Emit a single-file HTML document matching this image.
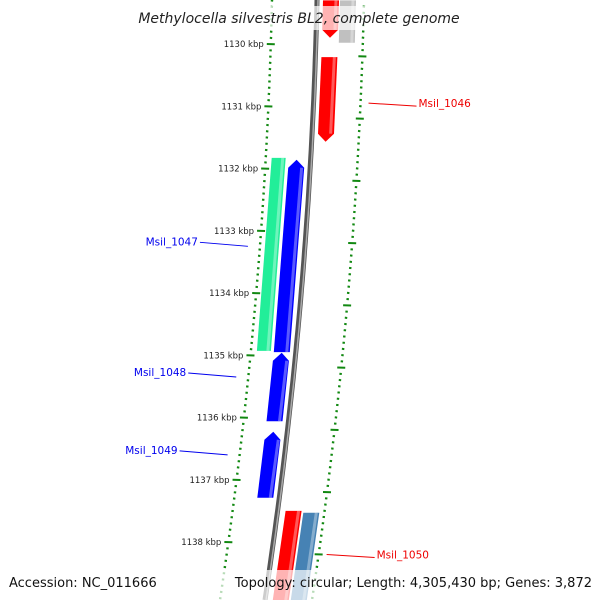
<!DOCTYPE html>
<html><head><meta charset="utf-8"><style>
body{margin:0;background:#fff}
svg{display:block;font-family:"DejaVu Sans","Liberation Sans",sans-serif}
</style></head><body>
<svg id="c" width="600" height="600" viewBox="0 0 600 600">
<defs>
<linearGradient id="bb" x1="0" x2="1"><stop offset="0" stop-color="#999"/><stop offset="0.5" stop-color="#555"/><stop offset="1" stop-color="#aaa"/></linearGradient>
</defs>
<g id="ticks"></g>
<g id="genes"></g>
<g id="labels"></g>
<rect x="140" y="6" width="320" height="24" fill="#fff" opacity="0.7"/>
<text x="299" y="23" text-anchor="middle" font-size="14" font-style="italic" fill="#222">Methylocella silvestris BL2, complete genome</text>
<rect x="0" y="570" width="600" height="30" fill="#fff" opacity="0.7"/>
<text x="9" y="587" font-size="13" fill="#111">Accession: NC_011666</text>
<text x="592" y="587" text-anchor="end" font-size="13" fill="#111">Topology: circular; Length: 4,305,430 bp; Genes: 3,872</text>
</svg>
<script>
const majorKbp=[1130,1131,1132,1133,1134,1135,1136,1137,1138];
const geneNames=["top-red","top-gray","Msil_1046","green","Msil_1047","Msil_1048","Msil_1049","Msil_1050","bottom-steel"];
const geneStart=[1129.3,1129.3,1130.21,1131.83,1131.86,1134.96,1136.23,1137.50,1137.53];
const geneEnd=[1129.90,1129.98,1131.57,1134.93,1134.95,1136.06,1137.29,1139.2,1139.2];
const geneStrand=[-1,0,-1,0,1,1,1,0,0];
const geneLane=[14,31,14,-32,-14,-14,-14,16,34];
const geneColor=["#ff0000","#c0c0c0","#ff0000","#22ee99","#0000ff","#0000ff","#0000ff","#ff0000","#4682b4"];
const labelText=["Msil_1046","Msil_1047","Msil_1048","Msil_1049","Msil_1050"];
const labelKbp=[1130.95,1133.25,1135.35,1136.60,1138.20];
const labelSide=[1,-1,-1,-1,1];
const labelColor=["#ee0000","#0000ee","#0000ee","#0000ee","#ee0000"];
const NS="http://www.w3.org/2000/svg";
function yOf(k){return 44+(k-1130)*62.25;}
function xb(y){return 317-0.0228*y-1.065e-4*y*y;}
function mk(t,a,p){const e=document.createElementNS(NS,t);for(const k in a)e.setAttribute(k,a[k]);p.appendChild(e);return e;}
const svg=document.getElementById('c');
const tg=document.getElementById('ticks'),gg=document.getElementById('genes'),lg=document.getElementById('labels');
// backbone
let d="";for(let y=0;y<=600;y+=10){d+=(y?"L":"M")+(xb(y)).toFixed(1)+" "+y;}
const bb=mk('path',{d:d,stroke:'#555',"stroke-width":5,fill:'none'},tg);

const bb2=mk('path',{d:d,stroke:'#aaa',"stroke-width":1.5,fill:'none',transform:'translate(1,0)'},tg);

// ticks
for(let k=1129.3;k<=1139.2;k+=0.1){
  const y=yOf(k); if(y<-2||y>602)continue;
  const kr=Math.round(k*10)/10;
  const isMaj=Math.abs(kr-Math.round(kr))<0.01;
  const xl=xb(y)-45;
  const tl=mk('line',{x1:xl-(isMaj?4:1.2),y1:y,x2:xl+(isMaj?4:1.2),y2:y+0.3,stroke:'#118811',"stroke-width":2},tg);
  
  const yr=y+6; const xr=xb(yr)+47;
  const rm=Math.abs((kr-0.1)-Math.round(kr-0.1))<0.01;
  const tr=mk('line',{x1:xr-(rm?4:1.2),y1:yr,x2:xr+(rm?4:1.2),y2:yr+0.3,stroke:'#118811',"stroke-width":2},tg);
  
}
majorKbp.forEach(k=>{const y=yOf(k);
  const t=mk('text',{x:xb(y)-52,y:y+3,"text-anchor":"end","font-size":8.5,fill:'#222'},tg);
  t.textContent=k+" kbp";
  });
// genes
geneStart.forEach((s,i)=>{
  const y1=yOf(s),y2=yOf(geneEnd[i]),w=geneLane[i]<-20?7:8,c=geneLane[i];
  const L=y=>xb(y)+c-w,R=y=>xb(y)+c+w,M=y=>xb(y)+c;
  let pts;
  if(geneStrand[i]===1){const ya=y1+8;
    pts=[[L(y2),y2],[L(ya),ya],[M(y1),y1],[R(ya),ya],[R(y2),y2]];}
  else if(geneStrand[i]===-1){const ya=y2-8;
    pts=[[L(y1),y1],[R(y1),y1],[R(ya),ya],[M(y2),y2],[L(ya),ya]];}
  else pts=[[L(y1),y1],[R(y1),y1],[R(y2),y2],[L(y2),y2]];
  const p=mk('polygon',{points:pts.map(q=>q[0].toFixed(1)+","+q[1].toFixed(1)).join(" "),fill:geneColor[i]},gg);
  
  const hl=mk('line',{x1:R(y1)-3,y1:y1+(geneStrand[i]===1?8:0),x2:R(y2)-3,y2:y2-(geneStrand[i]===-1?8:0),stroke:'#fff',"stroke-opacity":0.35,"stroke-width":3},gg);
  
});
// labels
labelText.forEach((t,i)=>{
  const y=yOf(labelKbp[i]),s=labelSide[i];
  const x0=xb(y)+s*(s>0?55:57);const x1=x0+s*48;
  const l=mk('line',{x1:x0,y1:y,x2:x1,y2:y-s*-0+(s>0?3:-4),stroke:labelColor[i],"stroke-width":1},lg);
  
  const tx=mk('text',{x:x1+s*2,y:y+(s>0?7:0)-(s>0?3:1),"text-anchor":s>0?"start":"end","font-size":10.5,fill:labelColor[i]},lg);
  tx.textContent=t;
  
});
</script>
</body></html>
